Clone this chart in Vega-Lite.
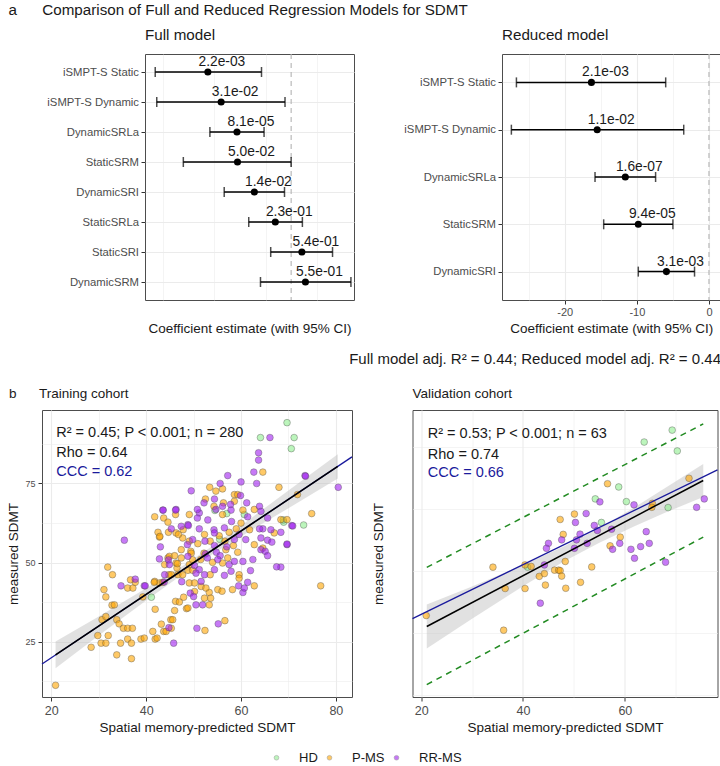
{
"$schema":"https://vega.github.io/schema/vega-lite/v6.json",
"padding":{"left":5,"top":2,"right":0,"bottom":0},
"config":{"font":"Liberation Sans","view":{"stroke":"#4d4d4d","strokeWidth":1},
"axis":{"domain":false,"tickColor":"#333333","tickSize":4,"tickWidth":1,"labelColor":"#4d4d4d","titleColor":"#1a1a1a","titleFontWeight":"normal","gridColor":"#ebebeb","labelPadding":2.5,"titlePadding":4,"labelOverlap":false},
"title":{"fontWeight":"normal","color":"#1a1a1a"}},
"datasets":{
"full":[{"term":"iSMPT-S Static","est":-16.3,"lo":-26.6,"hi":-5.8,"p":"2.2e-03"},{"term":"iSMPT-S Dynamic","est":-13.7,"lo":-26.3,"hi":-1.2,"p":"3.1e-02"},{"term":"DynamicSRLa","est":-10.6,"lo":-15.9,"hi":-5.3,"p":"8.1e-05"},{"term":"StaticSRM","est":-10.5,"lo":-21.1,"hi":0.0,"p":"5.0e-02"},{"term":"DynamicSRI","est":-7.2,"lo":-13.1,"hi":-1.3,"p":"1.4e-02"},{"term":"StaticSRLa","est":-3.1,"lo":-8.3,"hi":2.2,"p":"2.3e-01"},{"term":"StaticSRI","est":2.1,"lo":-4.0,"hi":8.1,"p":"5.4e-01"},{"term":"DynamicSRM","est":2.8,"lo":-6.0,"hi":11.7,"p":"5.5e-01"}],
"reduced":[{"term":"iSMPT-S Static","est":-16.3,"lo":-26.7,"hi":-6.0,"p":"2.1e-03"},{"term":"iSMPT-S Dynamic","est":-15.5,"lo":-27.4,"hi":-3.5,"p":"1.1e-02"},{"term":"DynamicSRLa","est":-11.6,"lo":-15.8,"hi":-7.4,"p":"1.6e-07"},{"term":"StaticSRM","est":-9.8,"lo":-14.6,"hi":-5.0,"p":"9.4e-05"},{"term":"DynamicSRI","est":-5.9,"lo":-9.8,"hi":-2.0,"p":"3.1e-03"}],
"train":[
{"pred":69.7,"meas":94.2,"grp":"HD"},{"pred":64.1,"meas":89.5,"grp":"HD"},{"pred":71.2,"meas":89.5,"grp":"HD"},{"pred":70.6,"meas":86.0,"grp":"HD"},{"pred":69.0,"meas":62.8,"grp":"HD"},{"pred":73.2,"meas":61.9,"grp":"HD"},{"pred":68.9,"meas":63.5,"grp":"HD"},{"pred":41.1,"meas":39.1,"grp":"HD"},{"pred":60.7,"meas":65.2,"grp":"HD"},{"pred":54.5,"meas":66.5,"grp":"HD"},{"pred":55.5,"meas":57.4,"grp":"HD"},{"pred":57.0,"meas":65.5,"grp":"HD"},
{"pred":20.9,"meas":11.3,"grp":"P-MS"},{"pred":28.4,"meas":23.3,"grp":"P-MS"},{"pred":29.8,"meas":27.0,"grp":"P-MS"},{"pred":30.5,"meas":24.6,"grp":"P-MS"},{"pred":31.5,"meas":24.6,"grp":"P-MS"},{"pred":32.0,"meas":27.0,"grp":"P-MS"},{"pred":33.8,"meas":20.9,"grp":"P-MS"},{"pred":34.6,"meas":24.6,"grp":"P-MS"},{"pred":36.1,"meas":25.9,"grp":"P-MS"},{"pred":36.9,"meas":24.6,"grp":"P-MS"},{"pred":36.9,"meas":19.7,"grp":"P-MS"},{"pred":38.9,"meas":25.9,"grp":"P-MS"},{"pred":41.4,"meas":28.3,"grp":"P-MS"},{"pred":41.9,"meas":25.9,"grp":"P-MS"},{"pred":43.2,"meas":30.6,"grp":"P-MS"},{"pred":43.7,"meas":28.3,"grp":"P-MS"},{"pred":45.2,"meas":32.0,"grp":"P-MS"},{"pred":48.5,"meas":35.5,"grp":"P-MS"},{"pred":30.7,"meas":32.0,"grp":"P-MS"},{"pred":31.5,"meas":33.0,"grp":"P-MS"},{"pred":32.8,"meas":36.6,"grp":"P-MS"},{"pred":33.8,"meas":32.0,"grp":"P-MS"},{"pred":34.3,"meas":30.7,"grp":"P-MS"},{"pred":35.2,"meas":29.3,"grp":"P-MS"},{"pred":36.1,"meas":29.3,"grp":"P-MS"},{"pred":37.1,"meas":29.3,"grp":"P-MS"},{"pred":39.6,"meas":26.2,"grp":"P-MS"},{"pred":42.3,"meas":26.2,"grp":"P-MS"},{"pred":44.2,"meas":28.3,"grp":"P-MS"},{"pred":45.3,"meas":29.3,"grp":"P-MS"},{"pred":52.4,"meas":28.6,"grp":"P-MS"},{"pred":56.6,"meas":31.7,"grp":"P-MS"},{"pred":45.6,"meas":32.0,"grp":"P-MS"},{"pred":46.0,"meas":34.9,"grp":"P-MS"},{"pred":48.8,"meas":35.7,"grp":"P-MS"},{"pred":41.9,"meas":35.3,"grp":"P-MS"},{"pred":33.3,"meas":36.7,"grp":"P-MS"},
{"pred":31.1,"meas":41.5,"grp":"P-MS"},{"pred":31.5,"meas":39.2,"grp":"P-MS"},{"pred":36.1,"meas":42.0,"grp":"P-MS"},{"pred":39.3,"meas":39.2,"grp":"P-MS"},{"pred":46.2,"meas":37.8,"grp":"P-MS"},{"pred":47.0,"meas":37.6,"grp":"P-MS"},{"pred":47.9,"meas":39.1,"grp":"P-MS"},{"pred":50.2,"meas":40.9,"grp":"P-MS"},{"pred":53.3,"meas":40.6,"grp":"P-MS"},{"pred":53.6,"meas":38.8,"grp":"P-MS"},{"pred":52.3,"meas":38.8,"grp":"P-MS"},{"pred":53.3,"meas":36.7,"grp":"P-MS"},{"pred":55.1,"meas":41.5,"grp":"P-MS"},{"pred":58.2,"meas":41.5,"grp":"P-MS"},{"pred":62.8,"meas":42.7,"grp":"P-MS"},{"pred":76.8,"meas":42.7,"grp":"P-MS"},{"pred":49.1,"meas":43.6,"grp":"P-MS"},{"pred":50.2,"meas":43.6,"grp":"P-MS"},{"pred":51.6,"meas":42.5,"grp":"P-MS"},{"pred":52.6,"meas":42.0,"grp":"P-MS"},{"pred":37.2,"meas":42.0,"grp":"P-MS"},{"pred":41.8,"meas":44.1,"grp":"P-MS"},{"pred":42.8,"meas":43.6,"grp":"P-MS"},{"pred":43.5,"meas":43.8,"grp":"P-MS"},{"pred":37.7,"meas":43.8,"grp":"P-MS"},{"pred":41.7,"meas":43.8,"grp":"P-MS"},{"pred":36.7,"meas":44.6,"grp":"P-MS"},{"pred":44.8,"meas":46.2,"grp":"P-MS"},{"pred":45.3,"meas":46.2,"grp":"P-MS"},{"pred":46.7,"meas":46.2,"grp":"P-MS"},{"pred":47.7,"meas":46.2,"grp":"P-MS"},{"pred":53.5,"meas":46.2,"grp":"P-MS"},{"pred":59.6,"meas":46.2,"grp":"P-MS"},{"pred":59.6,"meas":45.1,"grp":"P-MS"},{"pred":32.9,"meas":46.2,"grp":"P-MS"},{"pred":56.0,"meas":41.0,"grp":"P-MS"},
{"pred":31.9,"meas":48.6,"grp":"P-MS"},{"pred":48.8,"meas":47.6,"grp":"P-MS"},{"pred":49.8,"meas":47.6,"grp":"P-MS"},{"pred":43.9,"meas":49.4,"grp":"P-MS"},{"pred":46.3,"meas":49.9,"grp":"P-MS"},{"pred":46.5,"meas":48.3,"grp":"P-MS"},{"pred":49.1,"meas":49.4,"grp":"P-MS"},{"pred":49.8,"meas":50.9,"grp":"P-MS"},{"pred":51.5,"meas":51.0,"grp":"P-MS"},{"pred":54.0,"meas":50.1,"grp":"P-MS"},{"pred":56.1,"meas":49.9,"grp":"P-MS"},{"pred":57.2,"meas":51.5,"grp":"P-MS"},{"pred":44.6,"meas":51.5,"grp":"P-MS"},{"pred":44.9,"meas":52.0,"grp":"P-MS"},{"pred":46.0,"meas":52.2,"grp":"P-MS"},{"pred":47.4,"meas":51.5,"grp":"P-MS"},{"pred":47.4,"meas":54.1,"grp":"P-MS"},{"pred":49.4,"meas":53.6,"grp":"P-MS"},{"pred":49.5,"meas":53.0,"grp":"P-MS"},{"pred":52.2,"meas":53.0,"grp":"P-MS"},{"pred":56.8,"meas":54.1,"grp":"P-MS"},{"pred":59.3,"meas":53.3,"grp":"P-MS"},{"pred":49.1,"meas":56.8,"grp":"P-MS"},{"pred":50.9,"meas":56.0,"grp":"P-MS"},{"pred":53.5,"meas":56.8,"grp":"P-MS"},{"pred":56.6,"meas":56.8,"grp":"P-MS"},{"pred":58.4,"meas":55.4,"grp":"P-MS"},{"pred":62.8,"meas":55.7,"grp":"P-MS"},{"pred":64.6,"meas":54.6,"grp":"P-MS"},{"pred":47.7,"meas":57.8,"grp":"P-MS"},{"pred":42.8,"meas":58.1,"grp":"P-MS"},{"pred":42.5,"meas":59.6,"grp":"P-MS"},{"pred":46.3,"meas":59.4,"grp":"P-MS"},{"pred":52.3,"meas":58.9,"grp":"P-MS"},{"pred":55.4,"meas":58.5,"grp":"P-MS"},{"pred":57.5,"meas":59.6,"grp":"P-MS"},{"pred":67.0,"meas":59.4,"grp":"P-MS"},{"pred":46.6,"meas":49.7,"grp":"P-MS"},{"pred":42.9,"meas":58.3,"grp":"P-MS"},{"pred":46.8,"meas":58.9,"grp":"P-MS"},{"pred":44.7,"meas":59.6,"grp":"P-MS"},
{"pred":59.0,"meas":60.7,"grp":"P-MS"},{"pred":61.8,"meas":60.4,"grp":"P-MS"},{"pred":47.8,"meas":60.4,"grp":"P-MS"},{"pred":41.8,"meas":64.5,"grp":"P-MS"},{"pred":43.7,"meas":64.1,"grp":"P-MS"},{"pred":44.6,"meas":62.8,"grp":"P-MS"},{"pred":49.1,"meas":65.2,"grp":"P-MS"},{"pred":56.1,"meas":65.2,"grp":"P-MS"},{"pred":60.4,"meas":66.6,"grp":"P-MS"},{"pred":62.8,"meas":66.8,"grp":"P-MS"},{"pred":68.4,"meas":63.6,"grp":"P-MS"},{"pred":69.7,"meas":63.6,"grp":"P-MS"},{"pred":74.9,"meas":65.5,"grp":"P-MS"},{"pred":54.3,"meas":67.8,"grp":"P-MS"},{"pred":56.3,"meas":68.9,"grp":"P-MS"},{"pred":58.6,"meas":69.4,"grp":"P-MS"},{"pred":52.5,"meas":70.1,"grp":"P-MS"},{"pred":58.6,"meas":71.5,"grp":"P-MS"},{"pred":59.3,"meas":71.5,"grp":"P-MS"},{"pred":71.9,"meas":71.5,"grp":"P-MS"},{"pred":68.0,"meas":73.8,"grp":"P-MS"},{"pred":53.4,"meas":73.8,"grp":"P-MS"},{"pred":54.7,"meas":72.6,"grp":"P-MS"},{"pred":56.1,"meas":73.3,"grp":"P-MS"},{"pred":64.6,"meas":78.6,"grp":"P-MS"},{"pred":46.2,"meas":65.2,"grp":"P-MS"},{"pred":60.0,"meas":62.5,"grp":"P-MS"},
{"pred":63.7,"meas":84.7,"grp":"RR-MS"},{"pred":63.7,"meas":82.4,"grp":"RR-MS"},{"pred":62.7,"meas":78.6,"grp":"RR-MS"},{"pred":57.2,"meas":77.5,"grp":"RR-MS"},{"pred":73.5,"meas":77.5,"grp":"RR-MS"},{"pred":80.5,"meas":73.8,"grp":"RR-MS"},{"pred":63.3,"meas":75.0,"grp":"RR-MS"},{"pred":55.6,"meas":75.0,"grp":"RR-MS"},{"pred":49.5,"meas":72.7,"grp":"RR-MS"},{"pred":54.4,"meas":70.1,"grp":"RR-MS"},{"pred":59.9,"meas":71.2,"grp":"RR-MS"},{"pred":61.2,"meas":68.9,"grp":"RR-MS"},{"pred":57.8,"meas":68.4,"grp":"RR-MS"},{"pred":52.2,"meas":68.9,"grp":"RR-MS"},{"pred":56.1,"meas":67.8,"grp":"RR-MS"},{"pred":63.9,"meas":67.8,"grp":"RR-MS"},{"pred":64.2,"meas":66.2,"grp":"RR-MS"},{"pred":57.9,"meas":66.6,"grp":"RR-MS"},{"pred":54.7,"meas":66.8,"grp":"RR-MS"},{"pred":43.5,"meas":66.6,"grp":"RR-MS"},{"pred":46.3,"meas":66.8,"grp":"RR-MS"},{"pred":51.2,"meas":65.7,"grp":"RR-MS"},{"pred":61.4,"meas":64.5,"grp":"RR-MS"},{"pred":65.6,"meas":64.1,"grp":"RR-MS"},{"pred":70.7,"meas":61.7,"grp":"RR-MS"},{"pred":66.3,"meas":60.4,"grp":"RR-MS"},{"pred":64.6,"meas":60.7,"grp":"RR-MS"},{"pred":63.9,"meas":60.7,"grp":"RR-MS"},{"pred":56.5,"meas":61.0,"grp":"RR-MS"},{"pred":54.3,"meas":60.4,"grp":"RR-MS"},{"pred":51.2,"meas":60.7,"grp":"RR-MS"},{"pred":48.8,"meas":62.0,"grp":"RR-MS"},{"pred":47.4,"meas":61.5,"grp":"RR-MS"},{"pred":45.3,"meas":60.7,"grp":"RR-MS"},{"pred":54.4,"meas":59.4,"grp":"RR-MS"},{"pred":59.6,"meas":58.9,"grp":"RR-MS"},{"pred":61.0,"meas":57.3,"grp":"RR-MS"},{"pred":64.2,"meas":57.8,"grp":"RR-MS"},{"pred":65.6,"meas":57.1,"grp":"RR-MS"},{"pred":68.4,"meas":59.6,"grp":"RR-MS"},{"pred":69.7,"meas":55.7,"grp":"RR-MS"},{"pred":64.2,"meas":54.1,"grp":"RR-MS"},{"pred":65.1,"meas":53.6,"grp":"RR-MS"},{"pred":65.6,"meas":52.2,"grp":"RR-MS"},{"pred":68.4,"meas":48.6,"grp":"RR-MS"},{"pred":35.4,"meas":57.1,"grp":"RR-MS"},{"pred":43.0,"meas":55.0,"grp":"RR-MS"},{"pred":52.4,"meas":56.8,"grp":"RR-MS"},{"pred":54.4,"meas":55.4,"grp":"RR-MS"},{"pred":58.6,"meas":57.3,"grp":"RR-MS"},{"pred":54.8,"meas":53.3,"grp":"RR-MS"},{"pred":55.6,"meas":52.2,"grp":"RR-MS"},{"pred":52.5,"meas":52.8,"grp":"RR-MS"},{"pred":42.8,"meas":51.2,"grp":"RR-MS"},{"pred":44.9,"meas":49.4,"grp":"RR-MS"},{"pred":48.8,"meas":52.0,"grp":"RR-MS"},{"pred":50.2,"meas":49.1,"grp":"RR-MS"},{"pred":52.9,"meas":51.5,"grp":"RR-MS"},{"pred":55.1,"meas":51.0,"grp":"RR-MS"},{"pred":57.5,"meas":49.4,"grp":"RR-MS"},{"pred":58.6,"meas":50.4,"grp":"RR-MS"},{"pred":60.4,"meas":50.4,"grp":"RR-MS"},{"pred":57.9,"meas":47.3,"grp":"RR-MS"},{"pred":59.5,"meas":42.7,"grp":"RR-MS"},{"pred":61.4,"meas":43.8,"grp":"RR-MS"},{"pred":54.4,"meas":47.8,"grp":"RR-MS"},{"pred":52.3,"meas":46.2,"grp":"RR-MS"},{"pred":51.2,"meas":47.8,"grp":"RR-MS"},{"pred":50.5,"meas":46.7,"grp":"RR-MS"},{"pred":43.9,"meas":46.2,"grp":"RR-MS"},{"pred":39.6,"meas":42.7,"grp":"RR-MS"},{"pred":37.7,"meas":44.8,"grp":"RR-MS"},{"pred":34.7,"meas":42.7,"grp":"RR-MS"},{"pred":49.3,"meas":40.4,"grp":"RR-MS"},{"pred":50.0,"meas":39.3,"grp":"RR-MS"},{"pred":51.6,"meas":44.1,"grp":"RR-MS"},{"pred":50.5,"meas":36.7,"grp":"RR-MS"},{"pred":51.9,"meas":36.7,"grp":"RR-MS"},{"pred":60.4,"meas":40.6,"grp":"RR-MS"},{"pred":60.7,"meas":42.0,"grp":"RR-MS"},{"pred":55.2,"meas":30.7,"grp":"RR-MS"},{"pred":50.7,"meas":29.3,"grp":"RR-MS"},{"pred":44.8,"meas":29.5,"grp":"RR-MS"},{"pred":45.8,"meas":24.6,"grp":"RR-MS"},{"pred":66.1,"meas":89.5,"grp":"RR-MS"},{"pred":73.6,"meas":77.3,"grp":"RR-MS"},{"pred":70.9,"meas":61.6,"grp":"RR-MS"},{"pred":69.7,"meas":55.9,"grp":"RR-MS"},{"pred":67.5,"meas":48.7,"grp":"RR-MS"},{"pred":44.7,"meas":50.9,"grp":"RR-MS"},{"pred":48.7,"meas":55.7,"grp":"RR-MS"},{"pred":49.8,"meas":57.3,"grp":"RR-MS"},{"pred":48.9,"meas":61.7,"grp":"RR-MS"},{"pred":50.8,"meas":64.1,"grp":"RR-MS"},{"pred":50.8,"meas":66.8,"grp":"RR-MS"},{"pred":43.6,"meas":66.6,"grp":"RR-MS"},{"pred":46.2,"meas":66.6,"grp":"RR-MS"},{"pred":39.8,"meas":42.7,"grp":"RR-MS"},{"pred":43.8,"meas":43.9,"grp":"RR-MS"},{"pred":57.0,"meas":55.0,"grp":"RR-MS"},{"pred":62.5,"meas":51.0,"grp":"RR-MS"},{"pred":66.5,"meas":56.5,"grp":"RR-MS"},{"pred":58.0,"meas":63.0,"grp":"RR-MS"},{"pred":53.0,"meas":63.5,"grp":"RR-MS"},{"pred":60.0,"meas":75.5,"grp":"RR-MS"},{"pred":47.5,"meas":44.0,"grp":"RR-MS"},{"pred":56.5,"meas":46.0,"grp":"RR-MS"},{"pred":62.0,"meas":47.5,"grp":"RR-MS"}
],
"val":[
{"pred":69.3,"meas":94.2,"grp":"HD"},{"pred":63.8,"meas":89.4,"grp":"HD"},{"pred":70.3,"meas":85.8,"grp":"HD"},{"pred":58.8,"meas":71.3,"grp":"HD"},{"pred":54.2,"meas":66.5,"grp":"HD"},{"pred":60.3,"meas":65.4,"grp":"HD"},{"pred":55.4,"meas":57.0,"grp":"HD"},{"pred":68.5,"meas":63.0,"grp":"HD"},{"pred":40.9,"meas":39.0,"grp":"HD"},
{"pred":72.6,"meas":74.8,"grp":"P-MS"},{"pred":56.6,"meas":72.6,"grp":"P-MS"},{"pred":65.4,"meas":64.7,"grp":"P-MS"},{"pred":65.3,"meas":63.1,"grp":"P-MS"},{"pred":47.3,"meas":58.2,"grp":"P-MS"},{"pred":50.1,"meas":60.4,"grp":"P-MS"},{"pred":47.9,"meas":52.2,"grp":"P-MS"},{"pred":59.1,"meas":51.1,"grp":"P-MS"},{"pred":57.1,"meas":47.6,"grp":"P-MS"},{"pred":34.1,"meas":39.0,"grp":"P-MS"},{"pred":36.5,"meas":30.4,"grp":"P-MS"},{"pred":40.4,"meas":30.4,"grp":"P-MS"},{"pred":40.4,"meas":39.9,"grp":"P-MS"},{"pred":41.6,"meas":39.3,"grp":"P-MS"},{"pred":43.2,"meas":35.3,"grp":"P-MS"},{"pred":44.2,"meas":36.4,"grp":"P-MS"},{"pred":44.4,"meas":31.8,"grp":"P-MS"},{"pred":46.2,"meas":37.8,"grp":"P-MS"},{"pred":47.0,"meas":37.8,"grp":"P-MS"},{"pred":47.3,"meas":37.6,"grp":"P-MS"},{"pred":47.6,"meas":35.4,"grp":"P-MS"},{"pred":48.3,"meas":41.3,"grp":"P-MS"},{"pred":48.4,"meas":30.5,"grp":"P-MS"},{"pred":51.3,"meas":32.9,"grp":"P-MS"},{"pred":53.5,"meas":39.1,"grp":"P-MS"},{"pred":21.0,"meas":19.5,"grp":"P-MS"},{"pred":36.2,"meas":13.6,"grp":"P-MS"},
{"pred":55.1,"meas":65.3,"grp":"RR-MS"},{"pred":52.4,"meas":60.6,"grp":"RR-MS"},{"pred":50.3,"meas":57.0,"grp":"RR-MS"},{"pred":54.0,"meas":55.8,"grp":"RR-MS"},{"pred":54.6,"meas":53.8,"grp":"RR-MS"},{"pred":57.4,"meas":54.3,"grp":"RR-MS"},{"pred":61.8,"meas":64.1,"grp":"RR-MS"},{"pred":64.2,"meas":53.3,"grp":"RR-MS"},{"pred":64.8,"meas":48.6,"grp":"RR-MS"},{"pred":63.1,"meas":47.3,"grp":"RR-MS"},{"pred":61.2,"meas":46.2,"grp":"RR-MS"},{"pred":61.9,"meas":42.6,"grp":"RR-MS"},{"pred":57.6,"meas":46.2,"grp":"RR-MS"},{"pred":59.0,"meas":48.6,"grp":"RR-MS"},{"pred":51.2,"meas":52.3,"grp":"RR-MS"},{"pred":50.5,"meas":50.0,"grp":"RR-MS"},{"pred":52.6,"meas":48.6,"grp":"RR-MS"},{"pred":45.0,"meas":48.6,"grp":"RR-MS"},{"pred":44.6,"meas":46.6,"grp":"RR-MS"},{"pred":47.6,"meas":50.0,"grp":"RR-MS"},{"pred":50.1,"meas":46.6,"grp":"RR-MS"},{"pred":44.2,"meas":39.9,"grp":"RR-MS"},{"pred":43.4,"meas":24.5,"grp":"RR-MS"},{"pred":68.0,"meas":41.0,"grp":"RR-MS"},{"pred":74.1,"meas":63.1,"grp":"RR-MS"},{"pred":75.6,"meas":66.5,"grp":"RR-MS"}
],
"tband":[{"pred":20.9,"lo":16.7,"hi":25.1},{"pred":30,"lo":27.0,"hi":33.0},{"pred":40,"lo":38.1,"hi":41.9},{"pred":48,"lo":46.7,"hi":49.3},{"pred":55,"lo":53.7,"hi":56.3},{"pred":62,"lo":60.1,"hi":63.9},{"pred":70,"lo":67.2,"hi":72.8},{"pred":80.4,"lo":76.6,"hi":84.2}],
"vband":[{"pred":21.1,"lo":6.2,"hi":24.0},{"pred":30,"lo":18.2,"hi":31.2},{"pred":40,"lo":31.3,"hi":39.9},{"pred":48,"lo":41.3,"hi":47.3},{"pred":55,"lo":48.8,"hi":54.8},{"pred":62,"lo":55.6,"hi":63.2},{"pred":68,"lo":61.0,"hi":71.0},{"pred":75.4,"lo":67.3,"hi":80.5}]
},
"title":{"text":"a\u00a0\u00a0\u00a0\u00a0\u00a0\u00a0Comparison of Full and Reduced Regression Models for SDMT","anchor":"start","frame":"bounds","fontSize":15.2,"fontWeight":"normal","offset":10,"dx":3},
"spacing":19,
"vconcat":[
{"hconcat":[
{"width":1,"height":246,"data":{"values":[{}]},"mark":{"type":"point","opacity":0},"encoding":{},"view":{"stroke":null}},
{"width":209,"height":246,"data":{"name":"full"},
"title":{"text":"Full model","anchor":"start","frame":"group","fontSize":15.2,"fontWeight":"normal","offset":10},
"layer":[
{"data":{"values":[{"v":0}]},"mark":{"type":"rule","color":"#b3b3b3","strokeDash":[5,4],"strokeWidth":1.1},
"encoding":{"x":{"field":"v","type":"quantitative","title":"Coefficient estimate (with 95% CI)","scale":{"domain":[-28.6,12.3],"nice":false,"zero":false},
"axis":{"values":[-25,-20,-15,-10,-5,0,5,10],"labelExpr":"datum.value % 10 == 0 ? '' + datum.value : ''","tickOpacity":{"condition":{"test":"datum.value % 10 == 0","value":1},"value":0},"gridWidth":{"condition":{"test":"datum.value % 10 == 0","value":1.1},"value":0.55},"grid":true,"labelFontSize":11,"titleFontSize":13.5}}}},
{"mark":{"type":"rule","color":"black","strokeWidth":1.5},"encoding":{"x":{"field":"lo","type":"quantitative","title":"Coefficient estimate (with 95% CI)"},"x2":{"field":"hi"},
"y":{"field":"term","type":"nominal","sort":null,"title":null,"scale":{"type":"point","padding":0.6},"axis":{"labelFontSize":11.3,"grid":true,"gridWidth":1.1,"labelLimit":200}}}},
{"mark":{"type":"tick","color":"black","size":10,"thickness":1.5,"orient":"vertical"},"encoding":{"x":{"field":"lo","type":"quantitative","title":"Coefficient estimate (with 95% CI)"},"y":{"field":"term","type":"nominal","sort":null,"title":null}}},
{"mark":{"type":"tick","color":"black","size":10,"thickness":1.5,"orient":"vertical"},"encoding":{"x":{"field":"hi","type":"quantitative","title":"Coefficient estimate (with 95% CI)"},"y":{"field":"term","type":"nominal","sort":null,"title":null}}},
{"mark":{"type":"point","filled":true,"color":"black","size":50,"opacity":1},"encoding":{"x":{"field":"est","type":"quantitative","title":"Coefficient estimate (with 95% CI)"},"y":{"field":"term","type":"nominal","sort":null,"title":null}}},
{"mark":{"type":"text","fontSize":13.8,"dy":-10,"dx":14,"align":"center","baseline":"middle","color":"#1a1a1a"},"encoding":{"x":{"field":"est","type":"quantitative","title":"Coefficient estimate (with 95% CI)"},"y":{"field":"term","type":"nominal","sort":null,"title":null},"text":{"field":"p"}}}
]},
{"width":218.5,"height":246,"data":{"name":"reduced"},
"title":{"text":"Reduced model","anchor":"start","frame":"group","fontSize":15.2,"fontWeight":"normal","offset":10},
"layer":[
{"data":{"values":[{"v":0}]},"mark":{"type":"rule","color":"#b3b3b3","strokeDash":[5,4],"strokeWidth":1.1},
"encoding":{"x":{"field":"v","type":"quantitative","title":"Coefficient estimate (with 95% CI)","scale":{"domain":[-28.7,1.6],"nice":false,"zero":false},
"axis":{"values":[-25,-20,-15,-10,-5,0],"labelExpr":"datum.value % 10 == 0 ? '' + datum.value : ''","tickOpacity":{"condition":{"test":"datum.value % 10 == 0","value":1},"value":0},"gridWidth":{"condition":{"test":"datum.value % 10 == 0","value":1.1},"value":0.55},"grid":true,"labelFontSize":11,"titleFontSize":13.5}}}},
{"mark":{"type":"rule","color":"black","strokeWidth":1.5},"encoding":{"x":{"field":"lo","type":"quantitative","title":"Coefficient estimate (with 95% CI)"},"x2":{"field":"hi"},
"y":{"field":"term","type":"nominal","sort":null,"title":null,"scale":{"type":"point","padding":0.6},"axis":{"labelFontSize":11.3,"grid":true,"gridWidth":1.1,"minExtent":146,"maxExtent":146,"labelLimit":200}}}},
{"mark":{"type":"tick","color":"black","size":10,"thickness":1.5,"orient":"vertical"},"encoding":{"x":{"field":"lo","type":"quantitative","title":"Coefficient estimate (with 95% CI)"},"y":{"field":"term","type":"nominal","sort":null,"title":null}}},
{"mark":{"type":"tick","color":"black","size":10,"thickness":1.5,"orient":"vertical"},"encoding":{"x":{"field":"hi","type":"quantitative","title":"Coefficient estimate (with 95% CI)"},"y":{"field":"term","type":"nominal","sort":null,"title":null}}},
{"mark":{"type":"point","filled":true,"color":"black","size":50,"opacity":1},"encoding":{"x":{"field":"est","type":"quantitative","title":"Coefficient estimate (with 95% CI)"},"y":{"field":"term","type":"nominal","sort":null,"title":null}}},
{"mark":{"type":"text","fontSize":13.8,"dy":-10,"dx":14,"align":"center","baseline":"middle","color":"#1a1a1a"},"encoding":{"x":{"field":"est","type":"quantitative","title":"Coefficient estimate (with 95% CI)"},"y":{"field":"term","type":"nominal","sort":null,"title":null},"text":{"field":"p"}}}
]}
],"spacing":0,
"title":{"text":"Full model adj. R² = 0.44; Reduced model adj. R² = 0.44","orient":"bottom","anchor":"end","frame":"bounds","fontSize":15,"fontWeight":"normal","offset":16}},
{"hconcat":[
{"width":310,"height":287,
"title":{"text":"b\u00a0\u00a0\u00a0\u00a0\u00a0\u00a0Training cohort","anchor":"start","frame":"bounds","fontSize":13.5,"fontWeight":"normal","offset":10,"dx":3},
"layer":[
{"data":{"name":"tband"},"mark":{"type":"area","color":"#bdbdbd","opacity":0.45},
"encoding":{"x":{"field":"pred","type":"quantitative","title":"Spatial memory-predicted SDMT","scale":{"domain":[18.04,83.4],"nice":false,"zero":false},
"axis":{"values":[20,30,40,50,60,70,80],"labelExpr":"datum.value % 20 == 0 ? '' + datum.value : ''","tickOpacity":{"condition":{"test":"datum.value % 20 == 0","value":1},"value":0},"gridWidth":{"condition":{"test":"datum.value % 20 == 0","value":1.1},"value":0.55},"labelFontSize":12.5,"titleFontSize":13.5,"labelPadding":3}},
"y":{"field":"lo","type":"quantitative","title":"measured SDMT","scale":{"domain":[7.6,98.2],"nice":false,"zero":false},
"axis":{"values":[12.5,25,37.5,50,62.5,75,87.5],"labelExpr":"datum.value % 25 == 0 ? '' + datum.value : ''","tickOpacity":{"condition":{"test":"datum.value % 25 == 0","value":1},"value":0},"gridWidth":{"condition":{"test":"datum.value % 25 == 0","value":1.1},"value":0.55},"labelFontSize":9,"titleFontSize":13.5,"labelPadding":3,"titlePadding":5,"minExtent":17,"maxExtent":17}},
"y2":{"field":"hi"}}},
{"data":{"name":"train"},"mark":{"type":"point","filled":true,"size":45,"fillOpacity":0.6,"stroke":"#555555","strokeWidth":0.5,"strokeOpacity":0.8},
"encoding":{"x":{"field":"pred","type":"quantitative","title":"Spatial memory-predicted SDMT"},"y":{"field":"meas","type":"quantitative","title":"measured SDMT"},
"color":{"field":"grp","type":"nominal","scale":{"domain":["HD","P-MS","RR-MS"],"range":["#90EE90","#FFA500","#A020F0"]},
"legend":{"orient":"none","legendX":228,"legendY":697,"direction":"horizontal","title":null,"labelFontSize":13,"labelColor":"#1a1a1a","symbolSize":22,"symbolType":"circle","symbolOpacity":0.6,"symbolStrokeColor":"#555555","symbolStrokeWidth":0.5,"labelOffset":16,"columnPadding":5}}}},
{"data":{"values":[{"pred":18.04,"meas":18.04},{"pred":83.4,"meas":83.4}]},"mark":{"type":"line","color":"#1a1a9c","strokeWidth":1.3},
"encoding":{"x":{"field":"pred","type":"quantitative","title":"Spatial memory-predicted SDMT"},"y":{"field":"meas","type":"quantitative","title":"measured SDMT"}}},
{"data":{"values":[{"pred":20.9,"meas":20.9},{"pred":80.4,"meas":80.4}]},"mark":{"type":"line","color":"black","strokeWidth":1.5},
"encoding":{"x":{"field":"pred","type":"quantitative","title":"Spatial memory-predicted SDMT"},"y":{"field":"meas","type":"quantitative","title":"measured SDMT"}}},
{"data":{"values":[{}]},"mark":{"type":"text","align":"left","baseline":"middle","fontSize":14.5,"color":"#1a1a1a"},
"encoding":{"x":{"datum":21.05,"type":"quantitative","title":"Spatial memory-predicted SDMT"},"y":{"datum":90.8,"type":"quantitative","title":"measured SDMT"},"text":{"value":"R² = 0.45; P < 0.001; n = 280"}}},
{"data":{"values":[{}]},"mark":{"type":"text","align":"left","baseline":"middle","fontSize":14.5,"color":"#1a1a1a"},
"encoding":{"x":{"datum":21.05,"type":"quantitative","title":"Spatial memory-predicted SDMT"},"y":{"datum":84.5,"type":"quantitative","title":"measured SDMT"},"text":{"value":"Rho = 0.64"}}},
{"data":{"values":[{}]},"mark":{"type":"text","align":"left","baseline":"middle","fontSize":14.5,"color":"#1a1a9c"},
"encoding":{"x":{"datum":21.05,"type":"quantitative","title":"Spatial memory-predicted SDMT"},"y":{"datum":78.5,"type":"quantitative","title":"measured SDMT"},"text":{"value":"CCC = 0.62"}}}
]},
{"width":305,"height":287,
"title":{"text":"Validation cohort","anchor":"start","frame":"group","fontSize":13.5,"fontWeight":"normal","offset":10},
"layer":[
{"data":{"name":"vband"},"mark":{"type":"area","color":"#bdbdbd","opacity":0.45},
"encoding":{"x":{"field":"pred","type":"quantitative","title":"Spatial memory-predicted SDMT","scale":{"domain":[18.3,78.2],"nice":false,"zero":false},
"axis":{"values":[20,30,40,50,60,70],"labelExpr":"datum.value % 20 == 0 ? '' + datum.value : ''","tickOpacity":{"condition":{"test":"datum.value % 20 == 0","value":1},"value":0},"gridWidth":{"condition":{"test":"datum.value % 20 == 0","value":1.1},"value":0.55},"labelFontSize":12.5,"titleFontSize":13.5,"labelPadding":3}},
"y":{"field":"lo","type":"quantitative","title":"measured SDMT","scale":{"domain":[-13.3,102.3],"nice":false,"zero":false},
"axis":{"values":[-12.5,0,12.5,25,37.5,50,62.5,75,87.5,100],"labelExpr":"datum.value % 25 == 0 ? '' + datum.value : ''","tickOpacity":{"condition":{"test":"datum.value % 25 == 0","value":1},"value":0},"gridWidth":{"condition":{"test":"datum.value % 25 == 0","value":1.1},"value":0.55},"labelFontSize":9,"titleFontSize":13.5,"labelPadding":3,"titlePadding":5,"minExtent":22,"maxExtent":22}},
"y2":{"field":"hi"}}},
{"data":{"name":"val"},"mark":{"type":"point","filled":true,"size":45,"fillOpacity":0.6,"stroke":"#555555","strokeWidth":0.5,"strokeOpacity":0.8},
"encoding":{"x":{"field":"pred","type":"quantitative","title":"Spatial memory-predicted SDMT"},"y":{"field":"meas","type":"quantitative","title":"measured SDMT"},
"color":{"field":"grp","type":"nominal","scale":{"domain":["HD","P-MS","RR-MS"],"range":["#90EE90","#FFA500","#A020F0"]},
"legend":{"orient":"none","legendX":228,"legendY":697,"direction":"horizontal","title":null,"labelFontSize":13,"labelColor":"#1a1a1a","symbolSize":22,"symbolType":"circle","symbolOpacity":0.6,"symbolStrokeColor":"#555555","symbolStrokeWidth":0.5,"labelOffset":16,"columnPadding":5}}}},
{"data":{"values":[{"pred":21.1,"meas":38.9},{"pred":75.4,"meas":96.7}]},"mark":{"type":"line","color":"#228B22","strokeWidth":1.5,"strokeDash":[6,5]},
"encoding":{"x":{"field":"pred","type":"quantitative","title":"Spatial memory-predicted SDMT"},"y":{"field":"meas","type":"quantitative","title":"measured SDMT"}}},
{"data":{"values":[{"pred":21.1,"meas":-8.3},{"pred":75.4,"meas":51.1}]},"mark":{"type":"line","color":"#228B22","strokeWidth":1.5,"strokeDash":[6,5]},
"encoding":{"x":{"field":"pred","type":"quantitative","title":"Spatial memory-predicted SDMT"},"y":{"field":"meas","type":"quantitative","title":"measured SDMT"}}},
{"data":{"values":[{"pred":18.3,"meas":18.3},{"pred":78.2,"meas":78.2}]},"mark":{"type":"line","color":"#1a1a9c","strokeWidth":1.3},
"encoding":{"x":{"field":"pred","type":"quantitative","title":"Spatial memory-predicted SDMT"},"y":{"field":"meas","type":"quantitative","title":"measured SDMT"}}},
{"data":{"values":[{"pred":21.1,"meas":15.1},{"pred":75.4,"meas":73.9}]},"mark":{"type":"line","color":"black","strokeWidth":1.5},
"encoding":{"x":{"field":"pred","type":"quantitative","title":"Spatial memory-predicted SDMT"},"y":{"field":"meas","type":"quantitative","title":"measured SDMT"}}},
{"data":{"values":[{}]},"mark":{"type":"text","align":"left","baseline":"middle","fontSize":14.5,"color":"#1a1a1a"},
"encoding":{"x":{"datum":21.3,"type":"quantitative","title":"Spatial memory-predicted SDMT"},"y":{"datum":92.6,"type":"quantitative","title":"measured SDMT"},"text":{"value":"R² = 0.53; P < 0.001; n = 63"}}},
{"data":{"values":[{}]},"mark":{"type":"text","align":"left","baseline":"middle","fontSize":14.5,"color":"#1a1a1a"},
"encoding":{"x":{"datum":21.3,"type":"quantitative","title":"Spatial memory-predicted SDMT"},"y":{"datum":84.2,"type":"quantitative","title":"measured SDMT"},"text":{"value":"Rho = 0.74"}}},
{"data":{"values":[{}]},"mark":{"type":"text","align":"left","baseline":"middle","fontSize":14.5,"color":"#1a1a9c"},
"encoding":{"x":{"datum":21.3,"type":"quantitative","title":"Spatial memory-predicted SDMT"},"y":{"datum":77.1,"type":"quantitative","title":"measured SDMT"},"text":{"value":"CCC = 0.66"}}}
]}
],"spacing":14.5}
]
}
